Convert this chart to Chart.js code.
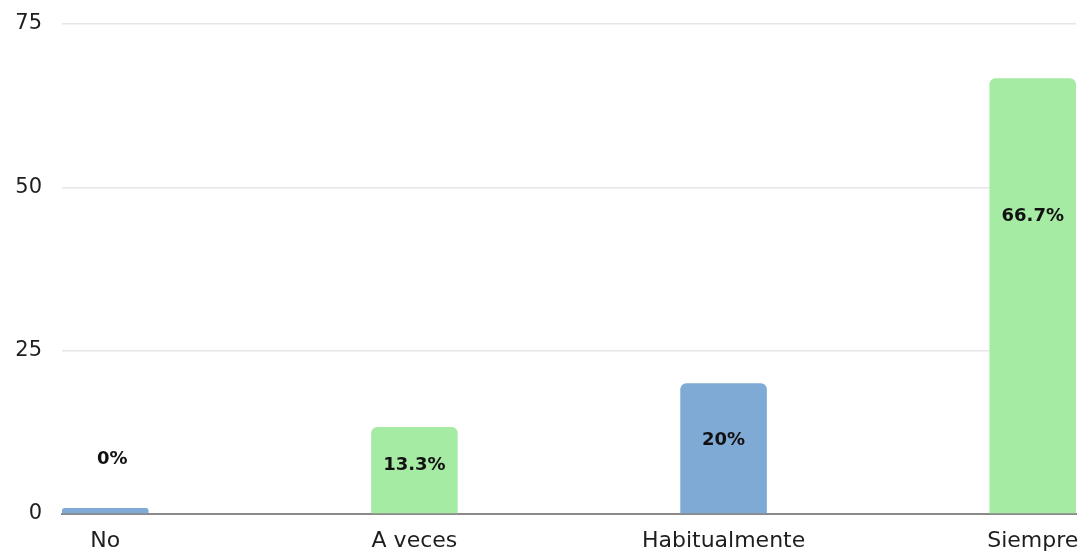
<!DOCTYPE html>
<html>
<head>
<meta charset="utf-8">
<script src="https://cdn.jsdelivr.net/npm/chart.js@4.4.1/dist/chart.umd.min.js"></script>
<style>
  html, body { margin: 0; padding: 0; background: #fff; }
  #wrap { width: 1084px; height: 555px; }
</style>
</head>
<body>
<div id="wrap"><canvas id="chart"></canvas></div>
<script>
var categories = ['No', 'A veces', 'Habitualmente', 'Siempre'];
var values = [0, 13.3, 20, 66.7];
var percentLabels = ['0%', '13.3%', '20%', '66.7%'];
var yTicks = [0, 25, 50, 75];

var blue = '#80aad6';
var green = '#a6eba3';
var barColors = [blue, green, blue, green];

// where each % label sits, in y units
var labelAt = [8.3, 7.5, 11.3, 45.5];

var points = values.map(function (v, i) {
    return { x: i, y: v };
});

var labelPlugin = {
    id: 'pctLabels',
    afterDatasetsDraw: function (chart) {
        var ctx = chart.ctx;
        var meta = chart.getDatasetMeta(0);
        var yScale = chart.scales.y;
        ctx.save();
        ctx.font = 'bold 18px "DejaVu Sans", sans-serif';
        ctx.fillStyle = '#111';
        ctx.textAlign = 'center';
        ctx.textBaseline = 'middle';
        meta.data.forEach(function (bar, i) {
            var dx = i === 0 ? 7 : 0;
            ctx.fillText(percentLabels[i], bar.x + dx, yScale.getPixelForValue(labelAt[i]));
        });
        ctx.restore();
    }
};

var config = {
    type: 'bar',
    data: {
        datasets: [{
            data: points,
            backgroundColor: barColors,
            borderRadius: { topLeft: 6, topRight: 6, bottomLeft: 0, bottomRight: 0 },
            borderSkipped: 'start',
            minBarLength: 6,
            barPercentage: 1,
            categoryPercentage: 0.28
        }]
    },
    options: {
        responsive: true,
        maintainAspectRatio: false,
        animation: false,
        layout: { padding: 0 },
        plugins: {
            legend: { display: false },
            tooltip: { enabled: false }
        },
        scales: {
            x: {
                type: 'linear',
                min: -0.14,
                max: 3.14,
                offset: false,
                grid: { display: false, drawTicks: false },
                border: { display: true, color: '#8a8a8a', width: 2 },
                ticks: {
                    stepSize: 1,
                    includeBounds: false,
                    autoSkip: false,
                    maxRotation: 0,
                    padding: 14,
                    color: '#1e1e1e',
                    font: { family: '"DejaVu Sans", sans-serif', size: 22 },
                    callback: function (v) { return categories[v]; }
                },
                afterFit: function (s) {
                    s.height = 41;
                    s.paddingLeft = 0;
                    s.paddingRight = 8;
                }
            },
            y: {
                min: 0,
                max: 75,
                afterBuildTicks: function (s) {
                    s.ticks = yTicks.map(function (v) { return { value: v }; });
                },
                grid: { color: '#e6e6e6', lineWidth: 1.5, drawTicks: false },
                border: { display: false },
                ticks: {
                    padding: 20,
                    color: '#1e1e1e',
                    font: { family: '"DejaVu Sans", sans-serif', size: 21 }
                },
                afterFit: function (s) {
                    s.width = 62;
                    s.paddingTop = 24;
                    s.paddingBottom = 0;
                }
            }
        }
    },
    plugins: [labelPlugin]
};

new Chart(document.getElementById('chart').getContext('2d'), config);
</script>
</body>
</html>
